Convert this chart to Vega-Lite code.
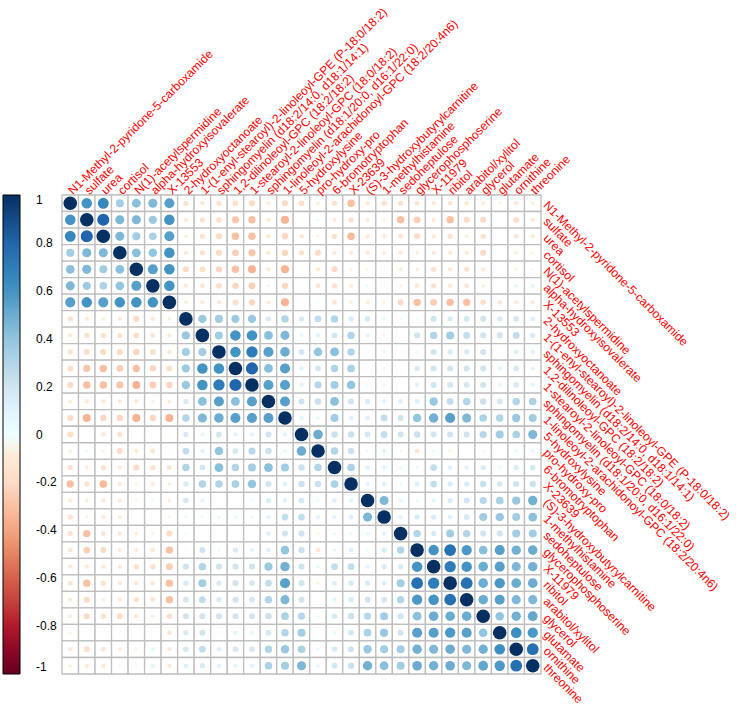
{
"$schema":"https://vega.github.io/schema/vega-lite/v6.json",
"autosize":{"type":"none"},
"padding":{"left":62,"top":195,"right":199,"bottom":32},
"width":479,"height":479,
"background":"white",
"datasets":{"names":[
{"k":0,"name":"N1-Methyl-2-pyridone-5-carboxamide"},{"k":1,"name":"sulfate"},{"k":2,"name":"urea"},{"k":3,"name":"cortisol"},{"k":4,"name":"N(1)-acetylspermidine"},{"k":5,"name":"alpha-hydroxyisovalerate"},{"k":6,"name":"X-13553"},{"k":7,"name":"2-hydroxyoctanoate"},{"k":8,"name":"1-(1-enyl-stearoyl)-2-linoleoyl-GPE (P-18:0/18:2)"},{"k":9,"name":"sphingomyelin (d18:2/14:0, d18:1/14:1)"},{"k":10,"name":"1,2-dilinoleoyl-GPC (18:2/18:2)"},{"k":11,"name":"1-stearoyl-2-linoleoyl-GPC (18:0/18:2)"},{"k":12,"name":"sphingomyelin (d18:1/20:0, d16:1/22:0)"},{"k":13,"name":"1-linoleoyl-2-arachidonoyl-GPC (18:2/20:4n6)"},{"k":14,"name":"5-hydroxylysine"},{"k":15,"name":"pro-hydroxy-pro"},{"k":16,"name":"6-bromotryptophan"},{"k":17,"name":"X-23639"},{"k":18,"name":"(S)-3-hydroxybutyrylcarnitine"},{"k":19,"name":"1-methylhistamine"},{"k":20,"name":"sedoheptulose"},{"k":21,"name":"glycerophosphoserine"},{"k":22,"name":"X-11979"},{"k":23,"name":"ribitol"},{"k":24,"name":"arabitol/xylitol"},{"k":25,"name":"glycerol"},{"k":26,"name":"glutamate"},{"k":27,"name":"ornithine"},{"k":28,"name":"threonine"}
]},
"data":{"values":[
{"r":0,"c":0,"v":1},{"r":0,"c":1,"v":0.6},{"r":0,"c":2,"v":0.65},{"r":0,"c":3,"v":0.35},{"r":0,"c":4,"v":0.42},{"r":0,"c":5,"v":0.45},{"r":0,"c":6,"v":0.55},{"r":0,"c":7,"v":-0.15},{"r":0,"c":8,"v":-0.1},{"r":0,"c":9,"v":-0.15},{"r":0,"c":10,"v":-0.18},{"r":0,"c":11,"v":-0.2},{"r":0,"c":12,"v":-0.08},{"r":0,"c":13,"v":-0.2},{"r":0,"c":14,"v":-0.18},{"r":0,"c":15,"v":-0.07},{"r":0,"c":16,"v":-0.15},{"r":0,"c":17,"v":-0.3},{"r":0,"c":18,"v":-0.1},{"r":0,"c":19,"v":-0.15},{"r":0,"c":20,"v":-0.15},{"r":0,"c":21,"v":-0.12},{"r":0,"c":22,"v":-0.1},{"r":0,"c":23,"v":-0.13},{"r":0,"c":24,"v":-0.1},{"r":0,"c":25,"v":-0.08},{"r":0,"c":26,"v":-0.05},{"r":0,"c":27,"v":-0.1},{"r":0,"c":28,"v":-0.07},
{"r":1,"c":0,"v":0.6},{"r":1,"c":1,"v":1},{"r":1,"c":2,"v":0.8},{"r":1,"c":3,"v":0.45},{"r":1,"c":4,"v":0.45},{"r":1,"c":5,"v":0.37},{"r":1,"c":6,"v":0.6},{"r":1,"c":7,"v":-0.1},{"r":1,"c":8,"v":-0.15},{"r":1,"c":9,"v":-0.18},{"r":1,"c":10,"v":-0.28},{"r":1,"c":11,"v":-0.3},{"r":1,"c":12,"v":-0.1},{"r":1,"c":13,"v":-0.35},{"r":1,"c":14,"v":0},{"r":1,"c":15,"v":0.05},{"r":1,"c":16,"v":-0.08},{"r":1,"c":17,"v":-0.15},{"r":1,"c":18,"v":-0.08},{"r":1,"c":19,"v":-0.05},{"r":1,"c":20,"v":-0.3},{"r":1,"c":21,"v":-0.25},{"r":1,"c":22,"v":-0.1},{"r":1,"c":23,"v":-0.3},{"r":1,"c":24,"v":-0.2},{"r":1,"c":25,"v":-0.2},{"r":1,"c":26,"v":0},{"r":1,"c":27,"v":-0.18},{"r":1,"c":28,"v":-0.1},
{"r":2,"c":0,"v":0.65},{"r":2,"c":1,"v":0.8},{"r":2,"c":2,"v":1},{"r":2,"c":3,"v":0.45},{"r":2,"c":4,"v":0.35},{"r":2,"c":5,"v":0.32},{"r":2,"c":6,"v":0.55},{"r":2,"c":7,"v":-0.07},{"r":2,"c":8,"v":-0.15},{"r":2,"c":9,"v":-0.2},{"r":2,"c":10,"v":-0.3},{"r":2,"c":11,"v":-0.3},{"r":2,"c":12,"v":-0.1},{"r":2,"c":13,"v":-0.22},{"r":2,"c":14,"v":-0.1},{"r":2,"c":15,"v":-0.05},{"r":2,"c":16,"v":-0.15},{"r":2,"c":17,"v":-0.32},{"r":2,"c":18,"v":-0.1},{"r":2,"c":19,"v":-0.1},{"r":2,"c":20,"v":-0.13},{"r":2,"c":21,"v":-0.2},{"r":2,"c":22,"v":-0.1},{"r":2,"c":23,"v":-0.15},{"r":2,"c":24,"v":-0.07},{"r":2,"c":25,"v":-0.15},{"r":2,"c":26,"v":0},{"r":2,"c":27,"v":-0.12},{"r":2,"c":28,"v":-0.1},
{"r":3,"c":0,"v":0.35},{"r":3,"c":1,"v":0.45},{"r":3,"c":2,"v":0.45},{"r":3,"c":3,"v":1},{"r":3,"c":4,"v":0.42},{"r":3,"c":5,"v":0.4},{"r":3,"c":6,"v":0.6},{"r":3,"c":7,"v":-0.1},{"r":3,"c":8,"v":-0.15},{"r":3,"c":9,"v":-0.2},{"r":3,"c":10,"v":-0.25},{"r":3,"c":11,"v":-0.28},{"r":3,"c":12,"v":-0.1},{"r":3,"c":13,"v":-0.22},{"r":3,"c":14,"v":-0.15},{"r":3,"c":15,"v":-0.2},{"r":3,"c":16,"v":-0.1},{"r":3,"c":17,"v":-0.1},{"r":3,"c":18,"v":-0.1},{"r":3,"c":19,"v":-0.08},{"r":3,"c":20,"v":-0.1},{"r":3,"c":21,"v":-0.08},{"r":3,"c":22,"v":-0.1},{"r":3,"c":23,"v":-0.1},{"r":3,"c":24,"v":-0.1},{"r":3,"c":25,"v":-0.2},{"r":3,"c":26,"v":-0.02},{"r":3,"c":27,"v":-0.07},{"r":3,"c":28,"v":-0.04},
{"r":4,"c":0,"v":0.42},{"r":4,"c":1,"v":0.45},{"r":4,"c":2,"v":0.35},{"r":4,"c":3,"v":0.42},{"r":4,"c":4,"v":1},{"r":4,"c":5,"v":0.55},{"r":4,"c":6,"v":0.6},{"r":4,"c":7,"v":-0.2},{"r":4,"c":8,"v":-0.18},{"r":4,"c":9,"v":-0.22},{"r":4,"c":10,"v":-0.3},{"r":4,"c":11,"v":-0.35},{"r":4,"c":12,"v":-0.1},{"r":4,"c":13,"v":-0.35},{"r":4,"c":14,"v":-0.02},{"r":4,"c":15,"v":-0.1},{"r":4,"c":16,"v":-0.2},{"r":4,"c":17,"v":-0.05},{"r":4,"c":18,"v":-0.04},{"r":4,"c":19,"v":-0.01},{"r":4,"c":20,"v":-0.08},{"r":4,"c":21,"v":-0.08},{"r":4,"c":22,"v":-0.15},{"r":4,"c":23,"v":-0.1},{"r":4,"c":24,"v":-0.15},{"r":4,"c":25,"v":-0.1},{"r":4,"c":26,"v":-0.01},{"r":4,"c":27,"v":-0.04},{"r":4,"c":28,"v":-0.03},
{"r":5,"c":0,"v":0.45},{"r":5,"c":1,"v":0.37},{"r":5,"c":2,"v":0.32},{"r":5,"c":3,"v":0.4},{"r":5,"c":4,"v":0.55},{"r":5,"c":5,"v":1},{"r":5,"c":6,"v":0.6},{"r":5,"c":7,"v":-0.1},{"r":5,"c":8,"v":-0.12},{"r":5,"c":9,"v":-0.18},{"r":5,"c":10,"v":-0.22},{"r":5,"c":11,"v":-0.25},{"r":5,"c":12,"v":-0.05},{"r":5,"c":13,"v":-0.22},{"r":5,"c":14,"v":0},{"r":5,"c":15,"v":-0.13},{"r":5,"c":16,"v":-0.15},{"r":5,"c":17,"v":-0.09},{"r":5,"c":18,"v":0.05},{"r":5,"c":19,"v":0},{"r":5,"c":20,"v":-0.05},{"r":5,"c":21,"v":-0.11},{"r":5,"c":22,"v":-0.15},{"r":5,"c":23,"v":-0.11},{"r":5,"c":24,"v":-0.13},{"r":5,"c":25,"v":-0.06},{"r":5,"c":26,"v":0},{"r":5,"c":27,"v":0.08},{"r":5,"c":28,"v":0.09},
{"r":6,"c":0,"v":0.55},{"r":6,"c":1,"v":0.6},{"r":6,"c":2,"v":0.55},{"r":6,"c":3,"v":0.6},{"r":6,"c":4,"v":0.6},{"r":6,"c":5,"v":0.6},{"r":6,"c":6,"v":1},{"r":6,"c":7,"v":-0.07},{"r":6,"c":8,"v":-0.1},{"r":6,"c":9,"v":-0.12},{"r":6,"c":10,"v":-0.18},{"r":6,"c":11,"v":-0.22},{"r":6,"c":12,"v":-0.08},{"r":6,"c":13,"v":-0.35},{"r":6,"c":14,"v":-0.02},{"r":6,"c":15,"v":0.03},{"r":6,"c":16,"v":-0.13},{"r":6,"c":17,"v":-0.07},{"r":6,"c":18,"v":-0.08},{"r":6,"c":19,"v":-0.05},{"r":6,"c":20,"v":-0.2},{"r":6,"c":21,"v":-0.3},{"r":6,"c":22,"v":-0.25},{"r":6,"c":23,"v":-0.3},{"r":6,"c":24,"v":-0.3},{"r":6,"c":25,"v":-0.17},{"r":6,"c":26,"v":-0.12},{"r":6,"c":27,"v":-0.1},{"r":6,"c":28,"v":-0.1},
{"r":7,"c":0,"v":-0.15},{"r":7,"c":1,"v":-0.1},{"r":7,"c":2,"v":-0.07},{"r":7,"c":3,"v":-0.1},{"r":7,"c":4,"v":-0.2},{"r":7,"c":5,"v":-0.1},{"r":7,"c":6,"v":-0.07},{"r":7,"c":7,"v":1},{"r":7,"c":8,"v":0.38},{"r":7,"c":9,"v":0.35},{"r":7,"c":10,"v":0.37},{"r":7,"c":11,"v":0.38},{"r":7,"c":12,"v":0.15},{"r":7,"c":13,"v":0.3},{"r":7,"c":14,"v":0.15},{"r":7,"c":15,"v":0.25},{"r":7,"c":16,"v":0.3},{"r":7,"c":17,"v":0.15},{"r":7,"c":18,"v":0.17},{"r":7,"c":19,"v":0.06},{"r":7,"c":20,"v":0.05},{"r":7,"c":21,"v":0.03},{"r":7,"c":22,"v":0.2},{"r":7,"c":23,"v":0.15},{"r":7,"c":24,"v":0.18},{"r":7,"c":25,"v":0.2},{"r":7,"c":26,"v":0.15},{"r":7,"c":27,"v":0.17},{"r":7,"c":28,"v":0.12},
{"r":8,"c":0,"v":-0.1},{"r":8,"c":1,"v":-0.15},{"r":8,"c":2,"v":-0.15},{"r":8,"c":3,"v":-0.15},{"r":8,"c":4,"v":-0.18},{"r":8,"c":5,"v":-0.12},{"r":8,"c":6,"v":-0.1},{"r":8,"c":7,"v":0.38},{"r":8,"c":8,"v":1},{"r":8,"c":9,"v":0.35},{"r":8,"c":10,"v":0.6},{"r":8,"c":11,"v":0.6},{"r":8,"c":12,"v":0.42},{"r":8,"c":13,"v":0.45},{"r":8,"c":14,"v":0.08},{"r":8,"c":15,"v":0.1},{"r":8,"c":16,"v":0.18},{"r":8,"c":17,"v":0.3},{"r":8,"c":18,"v":0.09},{"r":8,"c":19,"v":0.05},{"r":8,"c":20,"v":0.01},{"r":8,"c":21,"v":0.2},{"r":8,"c":22,"v":0.3},{"r":8,"c":23,"v":0.35},{"r":8,"c":24,"v":0.25},{"r":8,"c":25,"v":0.2},{"r":8,"c":26,"v":0.2},{"r":8,"c":27,"v":0.25},{"r":8,"c":28,"v":0.15},
{"r":9,"c":0,"v":-0.15},{"r":9,"c":1,"v":-0.18},{"r":9,"c":2,"v":-0.2},{"r":9,"c":3,"v":-0.2},{"r":9,"c":4,"v":-0.22},{"r":9,"c":5,"v":-0.18},{"r":9,"c":6,"v":-0.12},{"r":9,"c":7,"v":0.35},{"r":9,"c":8,"v":0.35},{"r":9,"c":9,"v":1},{"r":9,"c":10,"v":0.6},{"r":9,"c":11,"v":0.7},{"r":9,"c":12,"v":0.55},{"r":9,"c":13,"v":0.5},{"r":9,"c":14,"v":0.18},{"r":9,"c":15,"v":0.4},{"r":9,"c":16,"v":0.42},{"r":9,"c":17,"v":0.3},{"r":9,"c":18,"v":0.03},{"r":9,"c":19,"v":0.07},{"r":9,"c":20,"v":0.01},{"r":9,"c":21,"v":0.05},{"r":9,"c":22,"v":0.2},{"r":9,"c":23,"v":0.15},{"r":9,"c":24,"v":0.15},{"r":9,"c":25,"v":0.2},{"r":9,"c":26,"v":0.03},{"r":9,"c":27,"v":0.12},{"r":9,"c":28,"v":0.11},
{"r":10,"c":0,"v":-0.18},{"r":10,"c":1,"v":-0.28},{"r":10,"c":2,"v":-0.3},{"r":10,"c":3,"v":-0.25},{"r":10,"c":4,"v":-0.3},{"r":10,"c":5,"v":-0.22},{"r":10,"c":6,"v":-0.18},{"r":10,"c":7,"v":0.37},{"r":10,"c":8,"v":0.6},{"r":10,"c":9,"v":0.6},{"r":10,"c":10,"v":1},{"r":10,"c":11,"v":0.8},{"r":10,"c":12,"v":0.42},{"r":10,"c":13,"v":0.55},{"r":10,"c":14,"v":0.1},{"r":10,"c":15,"v":0.18},{"r":10,"c":16,"v":0.3},{"r":10,"c":17,"v":0.32},{"r":10,"c":18,"v":0.01},{"r":10,"c":19,"v":0.05},{"r":10,"c":20,"v":0},{"r":10,"c":21,"v":0.15},{"r":10,"c":22,"v":0.2},{"r":10,"c":23,"v":0.2},{"r":10,"c":24,"v":0.2},{"r":10,"c":25,"v":0.2},{"r":10,"c":26,"v":0.1},{"r":10,"c":27,"v":0.17},{"r":10,"c":28,"v":0.09},
{"r":11,"c":0,"v":-0.2},{"r":11,"c":1,"v":-0.3},{"r":11,"c":2,"v":-0.3},{"r":11,"c":3,"v":-0.28},{"r":11,"c":4,"v":-0.35},{"r":11,"c":5,"v":-0.25},{"r":11,"c":6,"v":-0.22},{"r":11,"c":7,"v":0.38},{"r":11,"c":8,"v":0.6},{"r":11,"c":9,"v":0.7},{"r":11,"c":10,"v":0.8},{"r":11,"c":11,"v":1},{"r":11,"c":12,"v":0.55},{"r":11,"c":13,"v":0.55},{"r":11,"c":14,"v":0.1},{"r":11,"c":15,"v":0.28},{"r":11,"c":16,"v":0.35},{"r":11,"c":17,"v":0.4},{"r":11,"c":18,"v":0.04},{"r":11,"c":19,"v":0.05},{"r":11,"c":20,"v":0},{"r":11,"c":21,"v":0.1},{"r":11,"c":22,"v":0.2},{"r":11,"c":23,"v":0.18},{"r":11,"c":24,"v":0.18},{"r":11,"c":25,"v":0.2},{"r":11,"c":26,"v":0.08},{"r":11,"c":27,"v":0.17},{"r":11,"c":28,"v":0.1},
{"r":12,"c":0,"v":-0.08},{"r":12,"c":1,"v":-0.1},{"r":12,"c":2,"v":-0.1},{"r":12,"c":3,"v":-0.1},{"r":12,"c":4,"v":-0.1},{"r":12,"c":5,"v":-0.05},{"r":12,"c":6,"v":-0.08},{"r":12,"c":7,"v":0.15},{"r":12,"c":8,"v":0.42},{"r":12,"c":9,"v":0.55},{"r":12,"c":10,"v":0.42},{"r":12,"c":11,"v":0.55},{"r":12,"c":12,"v":1},{"r":12,"c":13,"v":0.55},{"r":12,"c":14,"v":0.2},{"r":12,"c":15,"v":0.22},{"r":12,"c":16,"v":0.42},{"r":12,"c":17,"v":0.2},{"r":12,"c":18,"v":0.15},{"r":12,"c":19,"v":0.1},{"r":12,"c":20,"v":0.12},{"r":12,"c":21,"v":0.12},{"r":12,"c":22,"v":0.38},{"r":12,"c":23,"v":0.25},{"r":12,"c":24,"v":0.3},{"r":12,"c":25,"v":0.22},{"r":12,"c":26,"v":0.18},{"r":12,"c":27,"v":0.3},{"r":12,"c":28,"v":0.32},
{"r":13,"c":0,"v":-0.2},{"r":13,"c":1,"v":-0.35},{"r":13,"c":2,"v":-0.22},{"r":13,"c":3,"v":-0.22},{"r":13,"c":4,"v":-0.35},{"r":13,"c":5,"v":-0.22},{"r":13,"c":6,"v":-0.35},{"r":13,"c":7,"v":0.3},{"r":13,"c":8,"v":0.45},{"r":13,"c":9,"v":0.5},{"r":13,"c":10,"v":0.55},{"r":13,"c":11,"v":0.55},{"r":13,"c":12,"v":0.55},{"r":13,"c":13,"v":1},{"r":13,"c":14,"v":0.1},{"r":13,"c":15,"v":0.07},{"r":13,"c":16,"v":0.35},{"r":13,"c":17,"v":0.12},{"r":13,"c":18,"v":0.12},{"r":13,"c":19,"v":0.25},{"r":13,"c":20,"v":0.2},{"r":13,"c":21,"v":0.4},{"r":13,"c":22,"v":0.48},{"r":13,"c":23,"v":0.55},{"r":13,"c":24,"v":0.45},{"r":13,"c":25,"v":0.32},{"r":13,"c":26,"v":0.3},{"r":13,"c":27,"v":0.38},{"r":13,"c":28,"v":0.35},
{"r":14,"c":0,"v":-0.18},{"r":14,"c":1,"v":0},{"r":14,"c":2,"v":-0.1},{"r":14,"c":3,"v":-0.15},{"r":14,"c":4,"v":-0.02},{"r":14,"c":5,"v":0},{"r":14,"c":6,"v":-0.02},{"r":14,"c":7,"v":0.15},{"r":14,"c":8,"v":0.08},{"r":14,"c":9,"v":0.18},{"r":14,"c":10,"v":0.1},{"r":14,"c":11,"v":0.1},{"r":14,"c":12,"v":0.2},{"r":14,"c":13,"v":0.1},{"r":14,"c":14,"v":1},{"r":14,"c":15,"v":0.5},{"r":14,"c":16,"v":0.22},{"r":14,"c":17,"v":0.22},{"r":14,"c":18,"v":0.18},{"r":14,"c":19,"v":0.25},{"r":14,"c":20,"v":0.2},{"r":14,"c":21,"v":0.22},{"r":14,"c":22,"v":0.2},{"r":14,"c":23,"v":0.2},{"r":14,"c":24,"v":0.2},{"r":14,"c":25,"v":0.28},{"r":14,"c":26,"v":0.35},{"r":14,"c":27,"v":0.32},{"r":14,"c":28,"v":0.45},
{"r":15,"c":0,"v":-0.07},{"r":15,"c":1,"v":0.05},{"r":15,"c":2,"v":-0.05},{"r":15,"c":3,"v":-0.2},{"r":15,"c":4,"v":-0.1},{"r":15,"c":5,"v":-0.13},{"r":15,"c":6,"v":0.03},{"r":15,"c":7,"v":0.25},{"r":15,"c":8,"v":0.1},{"r":15,"c":9,"v":0.4},{"r":15,"c":10,"v":0.18},{"r":15,"c":11,"v":0.28},{"r":15,"c":12,"v":0.22},{"r":15,"c":13,"v":0.07},{"r":15,"c":14,"v":0.5},{"r":15,"c":15,"v":1},{"r":15,"c":16,"v":0.3},{"r":15,"c":17,"v":0.22},{"r":15,"c":18,"v":0.05},{"r":15,"c":19,"v":0.1},{"r":15,"c":20,"v":-0.03},{"r":15,"c":21,"v":-0.12},{"r":15,"c":22,"v":0.06},{"r":15,"c":23,"v":-0.05},{"r":15,"c":24,"v":0},{"r":15,"c":25,"v":0.04},{"r":15,"c":26,"v":0},{"r":15,"c":27,"v":0.05},{"r":15,"c":28,"v":0.07},
{"r":16,"c":0,"v":-0.15},{"r":16,"c":1,"v":-0.08},{"r":16,"c":2,"v":-0.15},{"r":16,"c":3,"v":-0.1},{"r":16,"c":4,"v":-0.2},{"r":16,"c":5,"v":-0.15},{"r":16,"c":6,"v":-0.13},{"r":16,"c":7,"v":0.3},{"r":16,"c":8,"v":0.18},{"r":16,"c":9,"v":0.42},{"r":16,"c":10,"v":0.3},{"r":16,"c":11,"v":0.35},{"r":16,"c":12,"v":0.42},{"r":16,"c":13,"v":0.35},{"r":16,"c":14,"v":0.22},{"r":16,"c":15,"v":0.3},{"r":16,"c":16,"v":1},{"r":16,"c":17,"v":0.32},{"r":16,"c":18,"v":0.12},{"r":16,"c":19,"v":0.1},{"r":16,"c":20,"v":0.06},{"r":16,"c":21,"v":0.06},{"r":16,"c":22,"v":0.25},{"r":16,"c":23,"v":0.12},{"r":16,"c":24,"v":0.1},{"r":16,"c":25,"v":0.15},{"r":16,"c":26,"v":0.06},{"r":16,"c":27,"v":0.15},{"r":16,"c":28,"v":0.18},
{"r":17,"c":0,"v":-0.3},{"r":17,"c":1,"v":-0.15},{"r":17,"c":2,"v":-0.32},{"r":17,"c":3,"v":-0.1},{"r":17,"c":4,"v":-0.05},{"r":17,"c":5,"v":-0.09},{"r":17,"c":6,"v":-0.07},{"r":17,"c":7,"v":0.15},{"r":17,"c":8,"v":0.3},{"r":17,"c":9,"v":0.3},{"r":17,"c":10,"v":0.32},{"r":17,"c":11,"v":0.4},{"r":17,"c":12,"v":0.2},{"r":17,"c":13,"v":0.12},{"r":17,"c":14,"v":0.22},{"r":17,"c":15,"v":0.22},{"r":17,"c":16,"v":0.32},{"r":17,"c":17,"v":1},{"r":17,"c":18,"v":0.1},{"r":17,"c":19,"v":0.12},{"r":17,"c":20,"v":0.05},{"r":17,"c":21,"v":0.12},{"r":17,"c":22,"v":0.25},{"r":17,"c":23,"v":0.15},{"r":17,"c":24,"v":0.15},{"r":17,"c":25,"v":0.22},{"r":17,"c":26,"v":0.18},{"r":17,"c":27,"v":0.2},{"r":17,"c":28,"v":0.22},
{"r":18,"c":0,"v":-0.1},{"r":18,"c":1,"v":-0.08},{"r":18,"c":2,"v":-0.1},{"r":18,"c":3,"v":-0.1},{"r":18,"c":4,"v":-0.04},{"r":18,"c":5,"v":0.05},{"r":18,"c":6,"v":-0.08},{"r":18,"c":7,"v":0.17},{"r":18,"c":8,"v":0.09},{"r":18,"c":9,"v":0.03},{"r":18,"c":10,"v":0.01},{"r":18,"c":11,"v":0.04},{"r":18,"c":12,"v":0.15},{"r":18,"c":13,"v":0.12},{"r":18,"c":14,"v":0.18},{"r":18,"c":15,"v":0.05},{"r":18,"c":16,"v":0.12},{"r":18,"c":17,"v":0.1},{"r":18,"c":18,"v":1},{"r":18,"c":19,"v":0.45},{"r":18,"c":20,"v":0.08},{"r":18,"c":21,"v":0.05},{"r":18,"c":22,"v":0.09},{"r":18,"c":23,"v":0.15},{"r":18,"c":24,"v":0.2},{"r":18,"c":25,"v":0.28},{"r":18,"c":26,"v":0.32},{"r":18,"c":27,"v":0.38},{"r":18,"c":28,"v":0.48},
{"r":19,"c":0,"v":-0.15},{"r":19,"c":1,"v":-0.05},{"r":19,"c":2,"v":-0.1},{"r":19,"c":3,"v":-0.08},{"r":19,"c":4,"v":-0.01},{"r":19,"c":5,"v":0},{"r":19,"c":6,"v":-0.05},{"r":19,"c":7,"v":0.06},{"r":19,"c":8,"v":0.05},{"r":19,"c":9,"v":0.07},{"r":19,"c":10,"v":0.05},{"r":19,"c":11,"v":0.05},{"r":19,"c":12,"v":0.1},{"r":19,"c":13,"v":0.25},{"r":19,"c":14,"v":0.25},{"r":19,"c":15,"v":0.1},{"r":19,"c":16,"v":0.1},{"r":19,"c":17,"v":0.12},{"r":19,"c":18,"v":0.45},{"r":19,"c":19,"v":1},{"r":19,"c":20,"v":0.1},{"r":19,"c":21,"v":0.15},{"r":19,"c":22,"v":0.15},{"r":19,"c":23,"v":0.12},{"r":19,"c":24,"v":0.18},{"r":19,"c":25,"v":0.35},{"r":19,"c":26,"v":0.38},{"r":19,"c":27,"v":0.35},{"r":19,"c":28,"v":0.42},
{"r":20,"c":0,"v":-0.15},{"r":20,"c":1,"v":-0.3},{"r":20,"c":2,"v":-0.13},{"r":20,"c":3,"v":-0.1},{"r":20,"c":4,"v":-0.08},{"r":20,"c":5,"v":-0.05},{"r":20,"c":6,"v":-0.2},{"r":20,"c":7,"v":0.05},{"r":20,"c":8,"v":0.01},{"r":20,"c":9,"v":0.01},{"r":20,"c":10,"v":0},{"r":20,"c":11,"v":0},{"r":20,"c":12,"v":0.12},{"r":20,"c":13,"v":0.2},{"r":20,"c":14,"v":0.2},{"r":20,"c":15,"v":-0.03},{"r":20,"c":16,"v":0.06},{"r":20,"c":17,"v":0.05},{"r":20,"c":18,"v":0.08},{"r":20,"c":19,"v":0.1},{"r":20,"c":20,"v":1},{"r":20,"c":21,"v":0.3},{"r":20,"c":22,"v":0.15},{"r":20,"c":23,"v":0.35},{"r":20,"c":24,"v":0.3},{"r":20,"c":25,"v":0.2},{"r":20,"c":26,"v":0.2},{"r":20,"c":27,"v":0.35},{"r":20,"c":28,"v":0.35},
{"r":21,"c":0,"v":-0.12},{"r":21,"c":1,"v":-0.25},{"r":21,"c":2,"v":-0.2},{"r":21,"c":3,"v":-0.08},{"r":21,"c":4,"v":-0.08},{"r":21,"c":5,"v":-0.11},{"r":21,"c":6,"v":-0.3},{"r":21,"c":7,"v":0.03},{"r":21,"c":8,"v":0.2},{"r":21,"c":9,"v":0.05},{"r":21,"c":10,"v":0.15},{"r":21,"c":11,"v":0.1},{"r":21,"c":12,"v":0.12},{"r":21,"c":13,"v":0.4},{"r":21,"c":14,"v":0.22},{"r":21,"c":15,"v":-0.12},{"r":21,"c":16,"v":0.06},{"r":21,"c":17,"v":0.12},{"r":21,"c":18,"v":0.05},{"r":21,"c":19,"v":0.15},{"r":21,"c":20,"v":0.3},{"r":21,"c":21,"v":1},{"r":21,"c":22,"v":0.6},{"r":21,"c":23,"v":0.75},{"r":21,"c":24,"v":0.58},{"r":21,"c":25,"v":0.42},{"r":21,"c":26,"v":0.55},{"r":21,"c":27,"v":0.48},{"r":21,"c":28,"v":0.5},
{"r":22,"c":0,"v":-0.1},{"r":22,"c":1,"v":-0.1},{"r":22,"c":2,"v":-0.1},{"r":22,"c":3,"v":-0.1},{"r":22,"c":4,"v":-0.15},{"r":22,"c":5,"v":-0.15},{"r":22,"c":6,"v":-0.25},{"r":22,"c":7,"v":0.2},{"r":22,"c":8,"v":0.3},{"r":22,"c":9,"v":0.2},{"r":22,"c":10,"v":0.2},{"r":22,"c":11,"v":0.2},{"r":22,"c":12,"v":0.38},{"r":22,"c":13,"v":0.48},{"r":22,"c":14,"v":0.2},{"r":22,"c":15,"v":0.06},{"r":22,"c":16,"v":0.25},{"r":22,"c":17,"v":0.25},{"r":22,"c":18,"v":0.09},{"r":22,"c":19,"v":0.15},{"r":22,"c":20,"v":0.15},{"r":22,"c":21,"v":0.6},{"r":22,"c":22,"v":1},{"r":22,"c":23,"v":0.7},{"r":22,"c":24,"v":0.6},{"r":22,"c":25,"v":0.5},{"r":22,"c":26,"v":0.55},{"r":22,"c":27,"v":0.45},{"r":22,"c":28,"v":0.48},
{"r":23,"c":0,"v":-0.13},{"r":23,"c":1,"v":-0.3},{"r":23,"c":2,"v":-0.15},{"r":23,"c":3,"v":-0.1},{"r":23,"c":4,"v":-0.1},{"r":23,"c":5,"v":-0.11},{"r":23,"c":6,"v":-0.3},{"r":23,"c":7,"v":0.15},{"r":23,"c":8,"v":0.35},{"r":23,"c":9,"v":0.15},{"r":23,"c":10,"v":0.2},{"r":23,"c":11,"v":0.18},{"r":23,"c":12,"v":0.25},{"r":23,"c":13,"v":0.55},{"r":23,"c":14,"v":0.2},{"r":23,"c":15,"v":-0.05},{"r":23,"c":16,"v":0.12},{"r":23,"c":17,"v":0.15},{"r":23,"c":18,"v":0.15},{"r":23,"c":19,"v":0.12},{"r":23,"c":20,"v":0.35},{"r":23,"c":21,"v":0.75},{"r":23,"c":22,"v":0.7},{"r":23,"c":23,"v":1},{"r":23,"c":24,"v":0.75},{"r":23,"c":25,"v":0.5},{"r":23,"c":26,"v":0.58},{"r":23,"c":27,"v":0.5},{"r":23,"c":28,"v":0.5},
{"r":24,"c":0,"v":-0.1},{"r":24,"c":1,"v":-0.2},{"r":24,"c":2,"v":-0.07},{"r":24,"c":3,"v":-0.1},{"r":24,"c":4,"v":-0.15},{"r":24,"c":5,"v":-0.13},{"r":24,"c":6,"v":-0.3},{"r":24,"c":7,"v":0.18},{"r":24,"c":8,"v":0.25},{"r":24,"c":9,"v":0.15},{"r":24,"c":10,"v":0.2},{"r":24,"c":11,"v":0.18},{"r":24,"c":12,"v":0.3},{"r":24,"c":13,"v":0.45},{"r":24,"c":14,"v":0.2},{"r":24,"c":15,"v":0},{"r":24,"c":16,"v":0.1},{"r":24,"c":17,"v":0.15},{"r":24,"c":18,"v":0.2},{"r":24,"c":19,"v":0.18},{"r":24,"c":20,"v":0.3},{"r":24,"c":21,"v":0.58},{"r":24,"c":22,"v":0.6},{"r":24,"c":23,"v":0.75},{"r":24,"c":24,"v":1},{"r":24,"c":25,"v":0.5},{"r":24,"c":26,"v":0.55},{"r":24,"c":27,"v":0.45},{"r":24,"c":28,"v":0.45},
{"r":25,"c":0,"v":-0.08},{"r":25,"c":1,"v":-0.2},{"r":25,"c":2,"v":-0.15},{"r":25,"c":3,"v":-0.2},{"r":25,"c":4,"v":-0.1},{"r":25,"c":5,"v":-0.06},{"r":25,"c":6,"v":-0.17},{"r":25,"c":7,"v":0.2},{"r":25,"c":8,"v":0.2},{"r":25,"c":9,"v":0.2},{"r":25,"c":10,"v":0.2},{"r":25,"c":11,"v":0.2},{"r":25,"c":12,"v":0.22},{"r":25,"c":13,"v":0.32},{"r":25,"c":14,"v":0.28},{"r":25,"c":15,"v":0.04},{"r":25,"c":16,"v":0.15},{"r":25,"c":17,"v":0.22},{"r":25,"c":18,"v":0.28},{"r":25,"c":19,"v":0.35},{"r":25,"c":20,"v":0.2},{"r":25,"c":21,"v":0.42},{"r":25,"c":22,"v":0.5},{"r":25,"c":23,"v":0.5},{"r":25,"c":24,"v":0.5},{"r":25,"c":25,"v":1},{"r":25,"c":26,"v":0.4},{"r":25,"c":27,"v":0.48},{"r":25,"c":28,"v":0.52},
{"r":26,"c":0,"v":-0.05},{"r":26,"c":1,"v":0},{"r":26,"c":2,"v":0},{"r":26,"c":3,"v":-0.02},{"r":26,"c":4,"v":-0.01},{"r":26,"c":5,"v":0},{"r":26,"c":6,"v":-0.12},{"r":26,"c":7,"v":0.15},{"r":26,"c":8,"v":0.2},{"r":26,"c":9,"v":0.03},{"r":26,"c":10,"v":0.1},{"r":26,"c":11,"v":0.08},{"r":26,"c":12,"v":0.18},{"r":26,"c":13,"v":0.3},{"r":26,"c":14,"v":0.35},{"r":26,"c":15,"v":0},{"r":26,"c":16,"v":0.06},{"r":26,"c":17,"v":0.18},{"r":26,"c":18,"v":0.32},{"r":26,"c":19,"v":0.38},{"r":26,"c":20,"v":0.2},{"r":26,"c":21,"v":0.55},{"r":26,"c":22,"v":0.55},{"r":26,"c":23,"v":0.58},{"r":26,"c":24,"v":0.55},{"r":26,"c":25,"v":0.4},{"r":26,"c":26,"v":1},{"r":26,"c":27,"v":0.62},{"r":26,"c":28,"v":0.58},
{"r":27,"c":0,"v":-0.1},{"r":27,"c":1,"v":-0.18},{"r":27,"c":2,"v":-0.12},{"r":27,"c":3,"v":-0.07},{"r":27,"c":4,"v":-0.04},{"r":27,"c":5,"v":0.08},{"r":27,"c":6,"v":-0.1},{"r":27,"c":7,"v":0.17},{"r":27,"c":8,"v":0.25},{"r":27,"c":9,"v":0.12},{"r":27,"c":10,"v":0.17},{"r":27,"c":11,"v":0.17},{"r":27,"c":12,"v":0.3},{"r":27,"c":13,"v":0.38},{"r":27,"c":14,"v":0.32},{"r":27,"c":15,"v":0.05},{"r":27,"c":16,"v":0.15},{"r":27,"c":17,"v":0.2},{"r":27,"c":18,"v":0.38},{"r":27,"c":19,"v":0.35},{"r":27,"c":20,"v":0.35},{"r":27,"c":21,"v":0.48},{"r":27,"c":22,"v":0.45},{"r":27,"c":23,"v":0.5},{"r":27,"c":24,"v":0.45},{"r":27,"c":25,"v":0.48},{"r":27,"c":26,"v":0.62},{"r":27,"c":27,"v":1},{"r":27,"c":28,"v":0.75},
{"r":28,"c":0,"v":-0.07},{"r":28,"c":1,"v":-0.1},{"r":28,"c":2,"v":-0.1},{"r":28,"c":3,"v":-0.04},{"r":28,"c":4,"v":-0.03},{"r":28,"c":5,"v":0.09},{"r":28,"c":6,"v":-0.1},{"r":28,"c":7,"v":0.12},{"r":28,"c":8,"v":0.15},{"r":28,"c":9,"v":0.11},{"r":28,"c":10,"v":0.09},{"r":28,"c":11,"v":0.1},{"r":28,"c":12,"v":0.32},{"r":28,"c":13,"v":0.35},{"r":28,"c":14,"v":0.45},{"r":28,"c":15,"v":0.07},{"r":28,"c":16,"v":0.18},{"r":28,"c":17,"v":0.22},{"r":28,"c":18,"v":0.48},{"r":28,"c":19,"v":0.42},{"r":28,"c":20,"v":0.35},{"r":28,"c":21,"v":0.5},{"r":28,"c":22,"v":0.48},{"r":28,"c":23,"v":0.5},{"r":28,"c":24,"v":0.45},{"r":28,"c":25,"v":0.52},{"r":28,"c":26,"v":0.58},{"r":28,"c":27,"v":0.75},{"r":28,"c":28,"v":1}
]},
"transform":[
{"lookup":"c","from":{"data":{"name":"names"},"key":"k","fields":["name"]},"as":["colName"]},
{"lookup":"r","from":{"data":{"name":"names"},"key":"k","fields":["name"]},"as":["rowName"]}
],
"encoding":{
"x":{"field":"colName","type":"nominal","scale":{"type":"band","paddingInner":0,"paddingOuter":0,"domain":["N1-Methyl-2-pyridone-5-carboxamide","sulfate","urea","cortisol","N(1)-acetylspermidine","alpha-hydroxyisovalerate","X-13553","2-hydroxyoctanoate","1-(1-enyl-stearoyl)-2-linoleoyl-GPE (P-18:0/18:2)","sphingomyelin (d18:2/14:0, d18:1/14:1)","1,2-dilinoleoyl-GPC (18:2/18:2)","1-stearoyl-2-linoleoyl-GPC (18:0/18:2)","sphingomyelin (d18:1/20:0, d16:1/22:0)","1-linoleoyl-2-arachidonoyl-GPC (18:2/20:4n6)","5-hydroxylysine","pro-hydroxy-pro","6-bromotryptophan","X-23639","(S)-3-hydroxybutyrylcarnitine","1-methylhistamine","sedoheptulose","glycerophosphoserine","X-11979","ribitol","arabitol/xylitol","glycerol","glutamate","ornithine","threonine"]},
"axis":{"orient":"top","title":null,"labelAngle":-45,"labelAlign":"left","labelBaseline":"middle","labelPadding":3,"ticks":false,"domain":false,"grid":false,"labelColor":"#FF0000","labelFont":"Liberation Sans","labelFontSize":12,"labelLimit":400,"labelOverlap":false}},
"y":{"field":"rowName","type":"nominal","scale":{"type":"band","paddingInner":0,"paddingOuter":0,"domain":["N1-Methyl-2-pyridone-5-carboxamide","sulfate","urea","cortisol","N(1)-acetylspermidine","alpha-hydroxyisovalerate","X-13553","2-hydroxyoctanoate","1-(1-enyl-stearoyl)-2-linoleoyl-GPE (P-18:0/18:2)","sphingomyelin (d18:2/14:0, d18:1/14:1)","1,2-dilinoleoyl-GPC (18:2/18:2)","1-stearoyl-2-linoleoyl-GPC (18:0/18:2)","sphingomyelin (d18:1/20:0, d16:1/22:0)","1-linoleoyl-2-arachidonoyl-GPC (18:2/20:4n6)","5-hydroxylysine","pro-hydroxy-pro","6-bromotryptophan","X-23639","(S)-3-hydroxybutyrylcarnitine","1-methylhistamine","sedoheptulose","glycerophosphoserine","X-11979","ribitol","arabitol/xylitol","glycerol","glutamate","ornithine","threonine"]},
"axis":{"orient":"right","title":null,"labelAngle":45,"labelAlign":"left","labelBaseline":"middle","labelPadding":4,"ticks":false,"domain":false,"grid":false,"labelColor":"#FF0000","labelFont":"Liberation Sans","labelFontSize":12,"labelLimit":400,"labelOverlap":false}}
},
"layer":[
{"mark":{"type":"rect","fill":"white","stroke":"#BEBEBE","strokeWidth":1.3}},
{"mark":{"type":"circle","opacity":1},
"encoding":{
"color":{"field":"v","type":"quantitative","scale":{"domain":[-1,-0.8,-0.6,-0.4,-0.2,0,0.2,0.4,0.6,0.8,1],"range":["#67001F","#B2182B","#D6604D","#F4A582","#FDDBC7","#FFFFFF","#D1E5F0","#92C5DE","#4393C3","#2166AC","#053061"]},
"legend":{"orient":"none","legendX":-59,"legendY":0,"direction":"vertical","title":null,"gradientLength":479,"gradientThickness":17,"gradientStrokeColor":"black","gradientStrokeWidth":1,"values":[-1,-0.8,-0.6,-0.4,-0.2,0,0.2,0.4,0.6,0.8,1],"labelFont":"Liberation Sans","labelFontSize":12,"labelColor":"black","labelOffset":16,"labelFlush":false,"labelOverlap":false,"labelExpr":"replace(format(datum.value, '~g'), '\u2212', '-')"}},
"size":{"field":"v","type":"quantitative","scale":{"domain":[-1,0,1],"range":[184,0,184]},"legend":null}
}}
],
"config":{"view":{"stroke":null}}
}
